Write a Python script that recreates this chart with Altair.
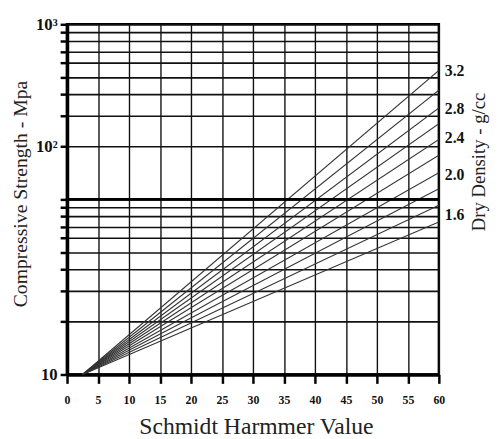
import altair as alt
import pandas as pd

# ---- data ----
densities = [3.2, 3.0, 2.8, 2.6, 2.4, 2.2, 2.0, 1.8, 1.6, 1.4]
start_x = 2.5
start_strength = 10
end_x = 60
end_strength = [545, 420, 333, 271, 220, 179, 142, 115, 92.5, 74.3]

label_text = ["3.2", "2.8", "2.4", "2.0", "1.6"]
label_strength = [537, 329, 223, 138, 81]

x_ticks = [0, 5, 10, 15, 20, 25, 30, 35, 40, 45, 50, 55, 60]
y_ticks = [10, 20, 30, 40, 50, 60, 70, 80, 90, 100,
           200, 300, 400, 500, 600, 700, 800, 900, 1000]
thick_levels = [100]

W, H = 378, 356
SERIF = "Liberation Serif"

rows = []
for d, e in zip(densities, end_strength):
    rows.append({"density": d, "x": start_x, "y": start_strength})
    rows.append({"density": d, "x": end_x, "y": e})
lines_df = pd.DataFrame(rows)

labels_df = pd.DataFrame({"x": [end_x] * len(label_text), "y": label_strength, "label": label_text})
thick_df = pd.DataFrame({"y": thick_levels})
title_df = pd.DataFrame({"t": ["Dry Density - g/cc"]})

xscale = alt.Scale(domain=[0, 60], nice=False, zero=False)
yscale = alt.Scale(type="log", domain=[10, 1000], nice=False)

x_axis = alt.Axis(
    values=x_ticks, grid=True, gridColor="#111", gridWidth=1.4,
    domainColor="black", domainWidth=3.5,
    tickColor="black", tickWidth=2.5, tickSize=9,
    labelFont=SERIF, labelFontWeight="bold", labelFontSize=12, labelColor="#111",
    labelPadding=11, labelFlush=False,
    title="Schmidt Harmmer Value", titleFont=SERIF, titleFontSize=24,
    titleFontWeight="normal", titleColor="#222",
    titleX=192, titleY=60, titleBaseline="alphabetic", titleAlign="center",
)
y_axis = alt.Axis(
    values=y_ticks, grid=True, gridColor="#111", gridWidth=1.6,
    domainColor="black", domainWidth=3.5,
    tickColor="black", tickWidth=2.5, tickSize=7,
    labelExpr="datum.value == 10 ? '10\u2009' : datum.value == 200 ? '10\u00b2' : datum.value == 1000 ? '10\u00b3' : ''",
    labelFont=SERIF, labelFontWeight="bold", labelFontSize=17, labelColor="#111",
    labelPadding=3, labelOverlap=False, labelFlush=False,
    title="Compressive Strength - Mpa", titleFont=SERIF, titleFontSize=20,
    titleFontWeight="normal", titleColor="#222",
    titleX=-41, titleY=172, titleAngle=270, titleBaseline="alphabetic", titleAlign="center",
)

lines = alt.Chart(lines_df).mark_line(color="#333", strokeWidth=1.1, clip=True).encode(
    x=alt.X("x:Q", scale=xscale, axis=x_axis),
    y=alt.Y("y:Q", scale=yscale, axis=y_axis),
    detail="density:N",
)

thick = alt.Chart(thick_df).mark_rule(color="black", strokeWidth=3).encode(
    y=alt.Y("y:Q", scale=yscale, axis=y_axis),
)

labels = alt.Chart(labels_df).mark_text(
    align="left", baseline="middle", dx=6, font=SERIF, fontWeight="bold",
    fontSize=16, color="#111",
).encode(
    x=alt.X("x:Q", scale=xscale, axis=x_axis),
    y=alt.Y("y:Q", scale=yscale, axis=y_axis),
    text="label:N",
)

right_title = alt.Chart(title_df).mark_text(
    angle=270, align="center", baseline="alphabetic", font=SERIF,
    fontSize=19, color="#222",
).encode(
    x=alt.value(425), y=alt.value(140), text="t:N",
)

chart = alt.layer(lines, thick, labels, right_title).properties(
    width=W, height=H,
    autosize=alt.AutoSizeParams(type="none"),
    padding={"left": 60, "top": 13, "right": 53, "bottom": 62},
    background="white",
).configure_view(stroke="black", strokeWidth=2.5)

chart.save("out.html", embed_options={"renderer": "svg", "actions": False})
